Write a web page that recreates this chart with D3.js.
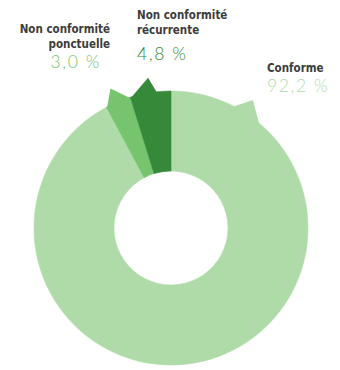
<!DOCTYPE html>
<html>
<head>
<meta charset="utf-8">
<script src="https://cdn.jsdelivr.net/npm/d3@7/dist/d3.min.js"></script>
<style>
  html, body { margin: 0; padding: 0; background: #fff; }
  svg { display: block; }
  .name { font-family: "DejaVu Sans Condensed", "DejaVu Sans", sans-serif; font-weight: bold; font-size: 11.5px; fill: #3c3c3c; }
  .pct { font-family: Lato, "Open Sans", sans-serif; font-weight: 300; font-size: 17.5px; letter-spacing: 1.6px; }
</style>
</head>
<body>
<svg id="chart" width="340" height="370"></svg>
<script>
// Share of controls by result (%)
const categories = ["Conforme", "Non conformité ponctuelle", "Non conformité récurrente"];
const values = [92.2, 3.0, 4.8];
const valueLabels = ["92,2 %", "3,0 %", "4,8 %"];
const colors = ["#afdba8", "#77c46f", "#37893a"];

const W = 340, H = 370;
const cx = 171, cy = 228, rOuter = 137, rInner = 57;
const tipOut = 15;

// Small callout pointers on each slice, in degrees relative to the slice start
const pointers = [
  { a0: 27, a1: 40.5, tip: 32.6 },
  { a0: 0, a1: 10.8, tip: 4.6 },
  { a0: 0, a1: 11.4, tip: 8.6 }
];

// Label blocks: name lines + value line
const labelLayout = [
  { x: 267, anchor: "start", lines: ["Conforme"], y: 72, vy: 92 },
  { x: 110, anchor: "end", lines: ["Non conformité", "ponctuelle"], y: 33, vy: 68, vx: 101 },
  { x: 137, anchor: "start", lines: ["Non conformité", "récurrente"], y: 19, vy: 60 }
];

const svg = d3.select("#chart");
const g = svg.append("g").attr("transform", `translate(${cx},${cy})`);

const pie = d3.pie().sort(null).value(d => d)(values);
const arc = d3.arc().innerRadius(rInner).outerRadius(rOuter);
const rad = d => d * Math.PI / 180;
const polar = (a, r) => [r * Math.sin(a), -r * Math.cos(a)];

pie.forEach((p, i) => {
  const pt = pointers[i];
  const tri = [
    polar(p.startAngle + rad(pt.a0), rOuter - 1),
    polar(p.startAngle + rad(pt.tip), rOuter + tipOut),
    polar(p.startAngle + rad(pt.a1), rOuter - 1),
    polar(p.startAngle + rad((pt.a0 + pt.a1) / 2), rOuter - 20)
  ];
  g.append("path")
    .attr("d", d3.line()(tri) + "Z")
    .attr("fill", colors[i]);
  g.append("path")
    .attr("d", arc(p))
    .attr("fill", colors[i])
    .attr("stroke", colors[i])
    .attr("stroke-width", 0.6);
});

labelLayout.forEach((L, i) => {
  L.lines.forEach((t, k) => {
    svg.append("text").attr("class", "name")
      .attr("x", L.x).attr("y", L.y + k * 14.5)
      .attr("text-anchor", L.anchor)
      .text(t);
  });
  svg.append("text").attr("class", "pct")
    .attr("x", L.vx !== undefined ? L.vx : L.x).attr("y", L.vy)
    .attr("text-anchor", L.anchor)
    .attr("fill", colors[i])
    .text(valueLabels[i]);
});
</script>
</body>
</html>
